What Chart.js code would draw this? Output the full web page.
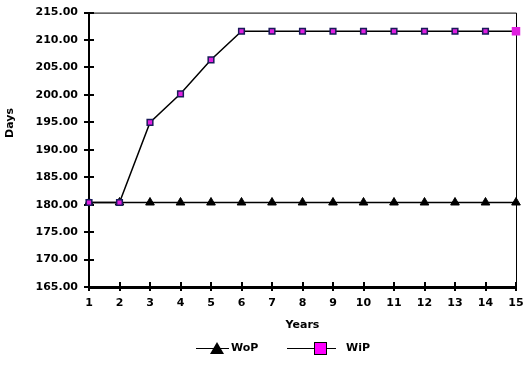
<!DOCTYPE html>
<html>
<head>
<meta charset="utf-8">
<script src="https://cdn.jsdelivr.net/npm/chart.js@4/dist/chart.umd.min.js"></script>
<style>
    body { margin: 0; background: #fff; }
    canvas { display: block; }
</style>
</head>
<body>
<canvas id="reportChart" width="530" height="373"></canvas>
<script>
// данные графика
var years = ['1', '2', '3', '4', '5', '6', '7', '8', '9', '10', '11', '12', '13', '14', '15'];
var wopDays = [180.4, 180.4, 180.4, 180.4, 180.4, 180.4, 180.4, 180.4, 180.4, 180.4, 180.4, 180.4, 180.4, 180.4, 180.4];
var wipDays = [180.4, 180.4, 195.0, 200.2, 206.4, 211.6, 211.6, 211.6, 211.6, 211.6, 211.6, 211.6, 211.6, 211.6, 211.6];
var yMin = 165, yMax = 215, yStep = 5;

var FONT = 'DejaVu Sans';
var FONT_CSS = 'bold 11px "' + FONT + '"';

/**
 * Рамка сверху/справа, засечки внутрь области графика и подпись оси Y
 */
var frameAndTicks = {
    id: 'frameAndTicks',
    beforeDatasetsDraw: function (chart) {
        var ctx = chart.ctx;
        var a = chart.chartArea;
        ctx.save();
        ctx.strokeStyle = '#000';
        ctx.lineWidth = 1;
        ctx.beginPath();
        ctx.moveTo(a.left, a.top + 0.5);
        ctx.lineTo(a.right + 0.5, a.top + 0.5);
        ctx.lineTo(a.right + 0.5, a.bottom);
        ctx.stroke();

        ctx.lineWidth = 2;
        var ys = chart.scales.y;
        ys.ticks.forEach(function (t) {
            var py = Math.round(ys.getPixelForValue(t.value));
            ctx.beginPath();
            ctx.moveTo(a.left, py);
            ctx.lineTo(a.left + 5, py);
            ctx.stroke();
        });
        var xs = chart.scales.x;
        for (var i = 0; i < years.length; i++) {
            var px = Math.round(xs.getPixelForValue(i));
            ctx.beginPath();
            ctx.moveTo(px, a.bottom);
            ctx.lineTo(px, a.bottom - 5);
            ctx.stroke();
        }

        // подпись оси Y (в оригинале сдвинута вверх от центра)
        ctx.font = FONT_CSS;
        ctx.fillStyle = '#000';
        ctx.textAlign = 'center';
        ctx.textBaseline = 'middle';
        ctx.translate(10, 123);
        ctx.rotate(-Math.PI / 2);
        ctx.fillText('Days', 0, 0);
        ctx.restore();
    }
};

/**
 * Легенда снизу: линия с маркером и подпись
 */
var bottomLegend = {
    id: 'bottomLegend',
    afterDraw: function (chart) {
        var ctx = chart.ctx;
        var y = 348;
        ctx.save();
        ctx.strokeStyle = '#000';
        ctx.lineWidth = 1;
        ctx.font = FONT_CSS;
        ctx.textBaseline = 'middle';
        ctx.fillStyle = '#000';

        // WoP
        ctx.beginPath();
        ctx.moveTo(196, y + 0.5);
        ctx.lineTo(229, y + 0.5);
        ctx.stroke();
        ctx.beginPath();
        ctx.moveTo(210, y + 6);
        ctx.lineTo(224, y + 6);
        ctx.lineTo(217, y - 6);
        ctx.closePath();
        ctx.fill();
        ctx.fillText(chart.data.datasets[0].label, 231, y);

        // WiP
        ctx.beginPath();
        ctx.moveTo(287, y + 0.5);
        ctx.lineTo(336, y + 0.5);
        ctx.stroke();
        ctx.fillStyle = '#ff00ff';
        ctx.fillRect(314, y - 6, 13, 13);
        ctx.strokeStyle = '#000';
        ctx.strokeRect(314.5, y - 5.5, 12, 12);
        ctx.fillStyle = '#000';
        ctx.fillText(chart.data.datasets[1].label, 346, y);
        ctx.restore();
    }
};

function RenderChart() {
    var ctx = document.getElementById('reportChart').getContext('2d');
    var myChart = new Chart(ctx, {
        type: 'line',
        data: {
            labels: years,
            datasets: [{
                label: 'WoP',
                data: wopDays,
                order: 2,
                borderColor: '#000',
                borderWidth: 1.5,
                backgroundColor: '#000',
                pointStyle: 'triangle',
                pointRadius: 5,
                pointBorderWidth: 1,
                pointBorderColor: '#000',
                pointBackgroundColor: '#000',
                tension: 0
            }, {
                label: 'WiP',
                data: wipDays,
                order: 1,
                borderColor: '#000',
                borderWidth: 1.5,
                backgroundColor: '#ff00ff',
                pointStyle: 'rect',
                pointRadius: function (c) { return c.dataIndex === 14 ? 6 : 4; },
                pointBorderWidth: function (c) { return c.dataIndex === 14 ? 0 : 1.5; },
                pointBorderColor: '#1a1a5a',
                pointBackgroundColor: '#e020e0',
                tension: 0
            }]
        },
        options: {
            responsive: false,
            animation: false,
            events: [],
            layout: { padding: { left: 0, right: 14, top: 9, bottom: 36 } },
            plugins: {
                legend: { display: false },
                tooltip: { enabled: false }
            },
            scales: {
                x: {
                    type: 'category',
                    offset: false,
                    afterFit: function (s) { s.height = 50; },
                    grid: {
                        drawOnChartArea: false,
                        offset: false,
                        color: '#000',
                        lineWidth: 2,
                        tickLength: 4
                    },
                    border: { color: '#000', width: 3 },
                    ticks: {
                        color: '#000',
                        padding: 6,
                        maxRotation: 0,
                        autoSkip: false,
                        font: { family: FONT, size: 11, weight: 'bold' }
                    },
                    title: {
                        display: true,
                        text: 'Years',
                        color: '#000',
                        padding: { top: 0, bottom: 5 },
                        font: { family: FONT, size: 11, weight: 'bold' }
                    }
                },
                y: {
                    min: yMin,
                    max: yMax,
                    afterFit: function (s) { s.width = 89; },
                    grid: {
                        drawOnChartArea: false,
                        color: '#000',
                        lineWidth: 2,
                        tickLength: 5
                    },
                    border: { color: '#000', width: 2 },
                    ticks: {
                        stepSize: yStep,
                        color: '#000',
                        padding: 6,
                        font: { family: FONT, size: 11, weight: 'bold' },
                        callback: function (v) { return v.toFixed(2); }
                    }
                }
            }
        },
        plugins: [frameAndTicks, bottomLegend]
    });
}

RenderChart();
</script>
</body>
</html>
